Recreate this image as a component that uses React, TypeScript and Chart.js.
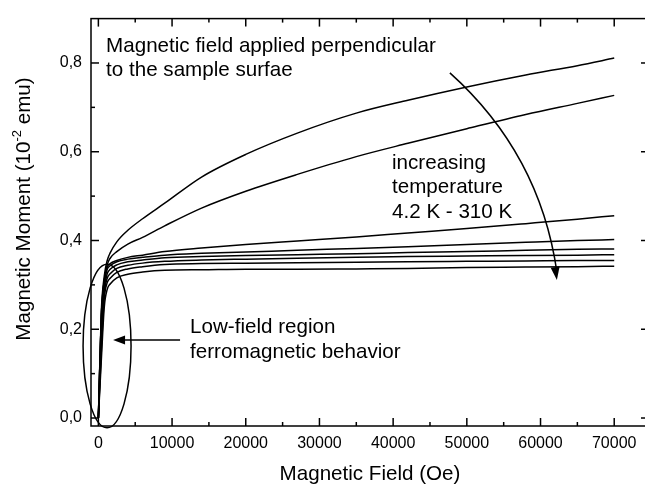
import React, { useEffect, useRef } from "react";
import { Chart, registerables } from "chart.js";

Chart.register(...registerables);

// Magnetic field (Oe) sample points shared by all curves
const fields = [0, 400, 800, 1200, 1600, 2500, 4000, 6000, 9000, 14000, 20000, 27000, 35000, 42000, 50000, 58000, 65000, 70000];

// Magnetic moment (10^-2 emu), one array per temperature (4.2 K ... 310 K)
const curve1 = [0, 0.24, 0.32, 0.355, 0.372, 0.397, 0.423, 0.449, 0.484, 0.543, 0.594, 0.642, 0.687, 0.716, 0.746, 0.773, 0.794, 0.811];
const curve2 = [0, 0.23, 0.31, 0.345, 0.36, 0.375, 0.392, 0.407, 0.433, 0.473, 0.511, 0.549, 0.589, 0.619, 0.652, 0.684, 0.709, 0.727];
const curve3 = [0, 0.23, 0.31, 0.34, 0.348, 0.355, 0.362, 0.367, 0.375, 0.383, 0.391, 0.399, 0.408, 0.417, 0.427, 0.438, 0.448, 0.456];
const curve4 = [0, 0.22, 0.3, 0.335, 0.343, 0.352, 0.358, 0.362, 0.367, 0.371, 0.374, 0.378, 0.382, 0.386, 0.391, 0.396, 0.4, 0.402];
const curve5 = [0, 0.19, 0.29, 0.325, 0.335, 0.345, 0.352, 0.356, 0.361, 0.364, 0.366, 0.368, 0.37, 0.373, 0.375, 0.378, 0.38, 0.381];
const curve6 = [0, 0.17, 0.28, 0.315, 0.325, 0.337, 0.344, 0.349, 0.353, 0.356, 0.358, 0.36, 0.362, 0.364, 0.365, 0.366, 0.367, 0.368];
const curve7 = [0, 0.15, 0.27, 0.305, 0.315, 0.328, 0.336, 0.341, 0.346, 0.348, 0.349, 0.35, 0.351, 0.352, 0.353, 0.354, 0.355, 0.355];
const curve8 = [0, 0.13, 0.25, 0.29, 0.302, 0.316, 0.324, 0.329, 0.333, 0.334, 0.335, 0.335, 0.336, 0.337, 0.339, 0.34, 0.341, 0.342];

const curves = [curve1, curve2, curve3, curve4, curve5, curve6, curve7, curve8];

const xTicks = [0, 10000, 20000, 30000, 40000, 50000, 60000, 70000];
const xMinorTicks = [5000, 15000, 25000, 35000, 45000, 55000, 65000];
const yTicks = [0, 0.2, 0.4, 0.6, 0.8];
const yMinorTicks = [0.1, 0.3, 0.5, 0.7];

const FONT = '"Liberation Sans", Arial, Helvetica, sans-serif';
const BIG = `20.6px ${FONT}`;

const decorPlugin = {
  id: "decor",
  afterDraw(chart: any) {
    const { ctx, chartArea, scales } = chart;
    const { left, right, top, bottom } = chartArea;
    const x = scales.x;
    const y = scales.y;
    const px = (v: number) => x.getPixelForValue(v);
    const py = (v: number) => y.getPixelForValue(v);
    ctx.save();
    ctx.strokeStyle = "#000";
    ctx.fillStyle = "#000";
    ctx.lineWidth = 1.5;
    ctx.strokeRect(left, top, right - left, bottom - top);

    const seg = (x1: number, y1: number, x2: number, y2: number) => {
      ctx.beginPath();
      ctx.moveTo(x1, y1);
      ctx.lineTo(x2, y2);
      ctx.stroke();
    };
    xTicks.forEach((v) => {
      const p = px(v);
      seg(p, bottom, p, bottom - 8);
      seg(p, top, p, top + 8);
    });
    xMinorTicks.forEach((v) => {
      const p = px(v);
      seg(p, bottom, p, bottom - 4);
      seg(p, top, p, top + 4);
    });
    yTicks.forEach((v) => {
      const p = py(v);
      seg(left, p, left + 8, p);
      seg(right, p, right - 8, p);
    });
    yMinorTicks.forEach((v) => {
      const p = py(v);
      seg(left, p, left + 4, p);
      seg(right, p, right - 4, p);
    });

    // Axis titles
    ctx.font = BIG;
    ctx.textAlign = "center";
    ctx.textBaseline = "alphabetic";
    ctx.fillText("Magnetic Field (Oe)", 370, 480);

    // Y title with superscript
    ctx.save();
    ctx.translate(30, 209);
    ctx.rotate(-Math.PI / 2);
    const p1 = "Magnetic Moment (10";
    const sup = "-2";
    const p2 = " emu)";
    ctx.font = BIG;
    const w1 = ctx.measureText(p1).width;
    const w3 = ctx.measureText(p2).width;
    ctx.font = `13px ${FONT}`;
    const w2 = ctx.measureText(sup).width;
    const total = w1 + w2 + w3;
    let cx = -total / 2;
    ctx.textAlign = "left";
    ctx.font = BIG;
    ctx.fillText(p1, cx, 0);
    cx += w1;
    ctx.font = `13px ${FONT}`;
    ctx.fillText(sup, cx, -9);
    cx += w2;
    ctx.font = BIG;
    ctx.fillText(p2, cx, 0);
    ctx.restore();

    // Annotations (anchored in data coordinates)
    ctx.font = BIG;
    ctx.textAlign = "left";
    ctx.fillText("Magnetic field applied perpendicular", px(1050), py(0.8251));
    ctx.fillText("to the sample surfae", px(1050), py(0.7696));
    ctx.fillText("increasing", px(39850), py(0.5622));
    ctx.fillText("temperature", px(39850), py(0.5067));
    ctx.fillText("4.2 K - 310 K", px(39850), py(0.4511));
    ctx.fillText("Low-field region", px(12440), py(0.1911));
    ctx.fillText("ferromagnetic behavior", px(12440), py(0.1356));

    // Ellipse around low-field region
    ctx.lineWidth = 1.5;
    const ecx = px(1180);
    const ecy = py(0.1622);
    ctx.beginPath();
    ctx.ellipse(ecx, ecy, px(1180 + 3256) - ecx, ecy - py(0.1622 + 0.1844), 0, 0, Math.PI * 2);
    ctx.stroke();

    // Straight arrow
    const ax1 = px(11085), ay = py(0.1756), ax2 = px(1995);
    seg(ax1, ay, ax2 + 8, ay);
    ctx.beginPath();
    ctx.moveTo(ax2, ay);
    ctx.lineTo(ax2 + 12, ay - 4.5);
    ctx.lineTo(ax2 + 12, ay + 4.5);
    ctx.closePath();
    ctx.fill();

    // Curved arrow
    const P0 = [px(47700), py(0.7778)];
    const P1 = [px(59910), py(0.5956)];
    const P2 = [px(62220), py(0.3111)];
    ctx.beginPath();
    ctx.moveTo(P0[0], P0[1]);
    ctx.quadraticCurveTo(P1[0], P1[1], P2[0], P2[1] - 8);
    ctx.stroke();
    const ang = Math.atan2(P2[1] - P1[1], P2[0] - P1[0]);
    ctx.save();
    ctx.translate(P2[0], P2[1]);
    ctx.rotate(ang);
    ctx.beginPath();
    ctx.moveTo(0, 0);
    ctx.lineTo(-13, -4.5);
    ctx.lineTo(-13, 4.5);
    ctx.closePath();
    ctx.fill();
    ctx.restore();

    ctx.restore();
  },
};

export default function App() {
  const canvasRef = useRef<HTMLCanvasElement | null>(null);

  useEffect(() => {
    const canvas = canvasRef.current;
    if (!canvas) return;
    const datasets = curves.map((c, i) => ({
      label: `curve ${i + 1}`,
      data: fields.map((f, j) => ({ x: f, y: c[j] })),
      borderColor: "#000",
      borderWidth: 1.5,
      pointRadius: 0,
      fill: false,
      cubicInterpolationMode: "monotone" as const,
    }));
    const chart = new Chart(canvas, {
      type: "line",
      data: { datasets },
      options: {
        animation: false,
        responsive: false,
        devicePixelRatio: 1,
        layout: { padding: { top: 13, right: 11, left: 0, bottom: 0 } },
        plugins: { legend: { display: false }, tooltip: { enabled: false } },
        scales: {
          x: {
            type: "linear",
            min: -1000,
            max: 74720,
            grid: { display: false, drawTicks: false },
            border: { display: false },
            afterBuildTicks: (s: any) => {
              s.ticks = xTicks.map((value) => ({ value }));
            },
            afterFit: (s: any) => {
              s.height = 59;
            },
            ticks: {
              color: "#000",
              font: { family: FONT, size: 16 },
              padding: 8,
              maxRotation: 0,
              autoSkip: false,
              callback: (v: any) => String(v),
            },
          },
          y: {
            type: "linear",
            min: -0.018,
            max: 0.9,
            grid: { display: false, drawTicks: false },
            border: { display: false },
            afterBuildTicks: (s: any) => {
              s.ticks = yTicks.map((value) => ({ value }));
            },
            afterFit: (s: any) => {
              s.width = 91;
            },
            ticks: {
              color: "#000",
              font: { family: FONT, size: 16 },
              padding: 9,
              callback: (v: any) => Number(v).toFixed(1).replace(".", ","),
            },
          },
        },
      },
      plugins: [decorPlugin],
    });
    return () => chart.destroy();
  }, []);

  return (
    <div
      style={{
        position: "fixed",
        left: 0,
        top: 0,
        width: 645,
        height: 485,
        overflow: "hidden",
        background: "#fff",
      }}
    >
      <canvas ref={canvasRef} width={660} height={485} style={{ width: 660, height: 485, display: "block" }} />
    </div>
  );
}
